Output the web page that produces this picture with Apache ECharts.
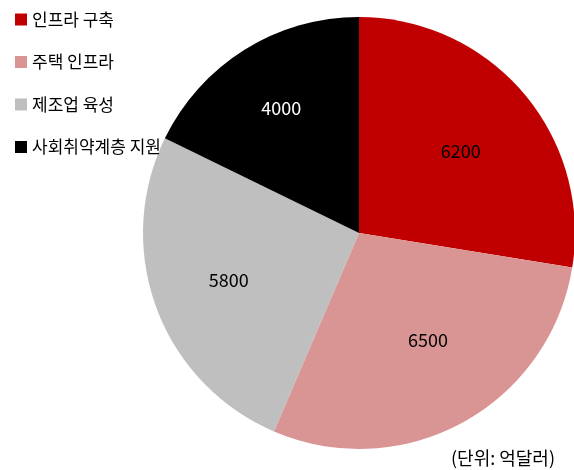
<!DOCTYPE html>
<html><head><meta charset="utf-8">
<script src="https://cdn.jsdelivr.net/npm/echarts@6/dist/echarts.min.js"></script>
<style>html,body{margin:0;padding:0;background:#fff}#c{width:574px;height:470px}</style>
</head><body><div id="c"></div>
<script>
const categories = ['인프라 구축', '주택 인프라', '제조업 육성', '사회취약계층 지원'];
const values = [6200, 6500, 5800, 4000];
const colors = ['#c00000', '#d99594', '#bfbfbf', '#000000'];
const labelColors = ['#000', '#000', '#000', '#fff'];
const unitText = '(단위: 억달러)';
const FONT = '"Noto Sans CJK KR", sans-serif';
// small per-label nudges [dx, dy]
const labelNudges = [[-4, 8], [2, -15], [0, -1], [-4, -7]];

const data = categories.map((n, i) => ({ name: n, value: values[i], itemStyle: { color: colors[i] } }));
const labelData = categories.map((n, i) => ({ name: n, value: values[i], label: { color: labelColors[i] } }));

const chart = echarts.init(document.getElementById('c'));
chart.setOption({
  animation: false,
  legend: {
    orient: 'vertical', left: 10, top: 6,
    itemWidth: 12, itemHeight: 12, itemGap: 25.5, icon: 'rect',
    textStyle: { fontFamily: FONT, fontSize: 17, color: '#000' },
    data: categories
  },
  graphic: [{
    type: 'text', right: 19, top: 449,
    style: { text: unitText, font: '18px ' + FONT, fill: '#000' }
  }],
  series: [{
    type: 'pie', center: [359, 233], radius: [0, 216], startAngle: 90, clockwise: true,
    label: { show: false }, labelLine: { show: false },
    itemStyle: { borderWidth: 0 },
    data: data
  }, {
    type: 'pie', center: [359, 233], radius: [0, 272], startAngle: 90, clockwise: true,
    silent: true, z: 3,
    itemStyle: { color: 'rgba(0,0,0,0)', borderWidth: 0 },
    label: { show: true, position: 'inside', formatter: '{c}', fontFamily: FONT, fontSize: 18 },
    labelLine: { show: false },
    labelLayout: function (p) { const n = labelNudges[p.dataIndex]; return { dx: n[0], dy: n[1] }; },
    data: labelData
  }]
});
</script></body></html>
